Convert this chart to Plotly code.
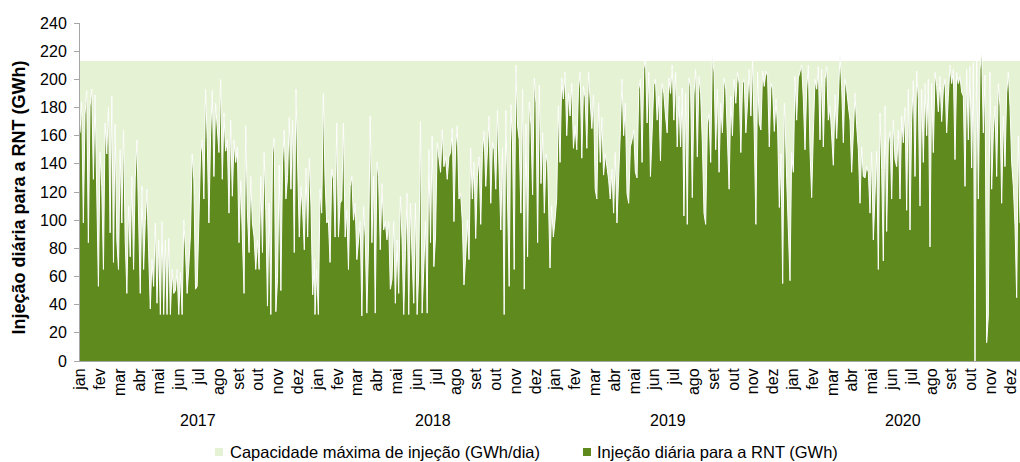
import pandas as pd
import plotly.graph_objects as go

years = [2017, 2018, 2019, 2020]
months = ["jan", "fev", "mar", "abr", "mai", "jun", "jul", "ago", "set", "out", "nov", "dez"]
label_interval_days = 30.75  # spacing of the month labels on the original axis
capacity = 213  # GWh/dia
series_names = ["Capacidade máxima de injeção (GWh/dia)", "Injeção diária para a RNT (GWh)"]
y_title = "Injeção diária para a RNT (GWh)"

inj_2017 = [162,184,98,175,192,84,181,193,129,189,120,53,148,124,65,169,147,180,91,188,
            70,168,86,65,150,98,164,86,48,110,74,131,65,130,157,110,48,124,65,99,
            122,77,37,72,53,98,41,86,33,99,33,86,33,87,33,65,48,50,65,33,
            63,33,100,79,48,67,90,147,129,51,53,98,147,157,115,193,157,98,160,192,
            131,183,164,148,200,129,176,149,157,105,171,117,157,141,
            152,84,128,93,48,167,106,77,131,98,88,65,86,65,131,77,148,106,39,112,
            33,147,158,35,58,139,50,141,164,115,131,173,122,171,77,193,136,88,124,107,
            79,137,88,144,110,47,72]
inj_2018 = [33,65,33,122,105,190,129,98,100,70,136,129,88,169,88,112,114,169,88,107,
            65,124,131,100,112,72,86,99,32,110,88,34,83,174,84,131,34,141,131,79,
            126,93,99,86,99,51,
            58,99,41,86,48,117,86,33,77,119,33,112,74,41,112,33,65,170,34,74,
            99,34,150,84,160,67,88,155,145,134,164,138,145,129,145,148,165,99,152,167,
            115,119,99,54,74,100,72,151,115,141,87,131,145,97,148,163,124,154,174,112,
            155,150,122,178,126,93,151,33,178,100,53,182,154,65,210,167,157,105,193,51,
            168,74,184,168,118,201,183,84,196,126,162,105,147,
            140,86]
inj_2019 = [66,110,88,100,115,181,141,201,186,205,160,190,174,197,151,167,150,193,205,144,
            195,187,151,205,186,165,189,122,115,183,141,173,132,147,138,129,115,136,105,148,
            98,126,162,200,160,183,119,112,152,157,164,134,130,193,200,141,207,216,169,205,
            131,162,196,200,171,188,142,197,190,174,162,201,190,210,171,205,152,188,152,194,
            103,190,97,201,194,116,189,207,145,202,190,
            155,105,97,169,175,141,218,205,150,193,134,183,162,201,193,148,122,188,160,200,
            183,205,197,148,197,200,162,183,207,174,214,162,97,205,169,164,206,195,206,202,
            152,197,193,163,186,164,109,147,55,183]
inj_2020 = [174,129,98,57,148,134,202,171,201,205,210,186,150,193,210,150,116,162,200,193,
            209,157,207,152,200,209,171,181,162,139,189,158,186,218,195,155,200,193,181,171,
            134,157,190,
            167,150,112,152,131,130,138,134,105,148,86,124,149,65,176,136,71,181,92,155,
            163,115,171,143,138,164,115,174,155,180,107,193,93,171,199,131,206,186,110,193,
            141,197,160,200,81,197,148,205,195,177,202,170,193,200,162,188,210,197,207,143,
            205,197,202,191,188,124,207,157,209,137,212,0,222,115,207,221,162,203,13,32,
            205,122,162,181,131,197,181,112,174,138,190,205,181,141,124,96,45,160,98]

inj_by_year = {2017: inj_2017, 2018: inj_2018, 2019: inj_2019, 2020: inj_2020}

DARK = "#5E8A1E"
LIGHT = "#E6F2D4"
AXIS = "#A6A6A6"
FONT = "Arial, Liberation Sans, sans-serif"

W, H = 1020, 462
ML, MR, MT, MB = 80, 0, 23, 101
PW, PH = W - ML - MR, H - MT - MB


def px_x(x):  # pixel -> paper x
    return (x - ML) / PW


def px_y(y):  # pixel -> paper y
    return (H - MB - y) / PH


dates, vals = [], []
for yr in years:
    v = inj_by_year[yr]
    d = pd.date_range(f"{yr}-01-01", f"{yr}-12-31", periods=len(v))
    dates.extend(list(d))
    vals.extend(v)

x_start = pd.Timestamp(f"{years[0]}-01-01")
x_end = pd.Timestamp(f"{years[-1]}-12-31")

fig = go.Figure()
fig.add_trace(go.Scatter(
    x=[x_start, x_end], y=[capacity, capacity], mode="lines", name=series_names[0],
    line=dict(width=0, color=LIGHT), fill="tozeroy", fillcolor=LIGHT,
    showlegend=False, hoverinfo="skip"))
fig.add_trace(go.Scatter(
    x=dates, y=vals, mode="lines", name=series_names[1],
    line=dict(width=1, color="white"), fill="tozeroy", fillcolor=DARK,
    showlegend=False))

# month labels: one per month (12 per year), at a fixed interval as in the original axis
tickvals, ticktext = [], []
for k in range(12 * len(years)):
    tickvals.append(x_start + pd.Timedelta(days=label_interval_days * k))
    ticktext.append(months[k % 12])

annotations = []
for yr in years:
    mid = pd.Timestamp(f"{yr}-01-01") + (pd.Timestamp(f"{yr + 1}-01-01") - pd.Timestamp(f"{yr}-01-01")) / 2
    annotations.append(dict(x=mid, y=-0.1775, xref="x", yref="paper", text=str(yr),
                            showarrow=False, font=dict(size=16, color="#000000", family=FONT),
                            yanchor="middle"))

# y-axis title
annotations.append(dict(x=px_x(18), y=px_y(197.5), xref="paper", yref="paper",
                        text=f"<b>{y_title}</b>", textangle=-90, showarrow=False,
                        xanchor="center", yanchor="middle",
                        font=dict(size=18, color="#000000", family=FONT)))

# legend (drawn as text + swatches, like the original chart)
shapes = []
legend_items = [(series_names[0], LIGHT, 215, 228), (series_names[1], DARK, 583, 595)]
for name, col, sq_x, tx_x in legend_items:
    shapes.append(dict(type="rect", xref="paper", yref="paper",
                       x0=px_x(sq_x), x1=px_x(sq_x + 8), y0=px_y(456), y1=px_y(448),
                       fillcolor=col, line=dict(width=0)))
    annotations.append(dict(x=px_x(tx_x), y=px_y(452), xref="paper", yref="paper",
                            text=name, showarrow=False, xanchor="left", yanchor="middle",
                            font=dict(size=16.5, color="#000000", family=FONT)))

fig.update_layout(
    width=W, height=H,
    margin=dict(l=ML, r=MR, t=MT, b=MB),
    plot_bgcolor="white", paper_bgcolor="white",
    font=dict(family=FONT, color="#000000", size=16),
    annotations=annotations, shapes=shapes,
    showlegend=False,
    xaxis=dict(type="date", range=[x_start, x_end], tickvals=tickvals, ticktext=ticktext,
               tickangle=-90, showline=True, linecolor=AXIS, linewidth=1, ticks="",
               showgrid=False, zeroline=False, tickfont=dict(size=16), automargin=False,
               ticklabeloverflow="allow"),
    yaxis=dict(range=[0, 240], dtick=20, ticks="outside", ticklen=5, tickcolor=AXIS,
               showline=True, linecolor=AXIS, linewidth=1, showgrid=False, zeroline=False,
               tickfont=dict(size=16), automargin=False, ticklabelstandoff=4),
)

fig.write_html("out.html", config={"displayModeBar": False},
               post_script="document.body.style.margin='0';")
